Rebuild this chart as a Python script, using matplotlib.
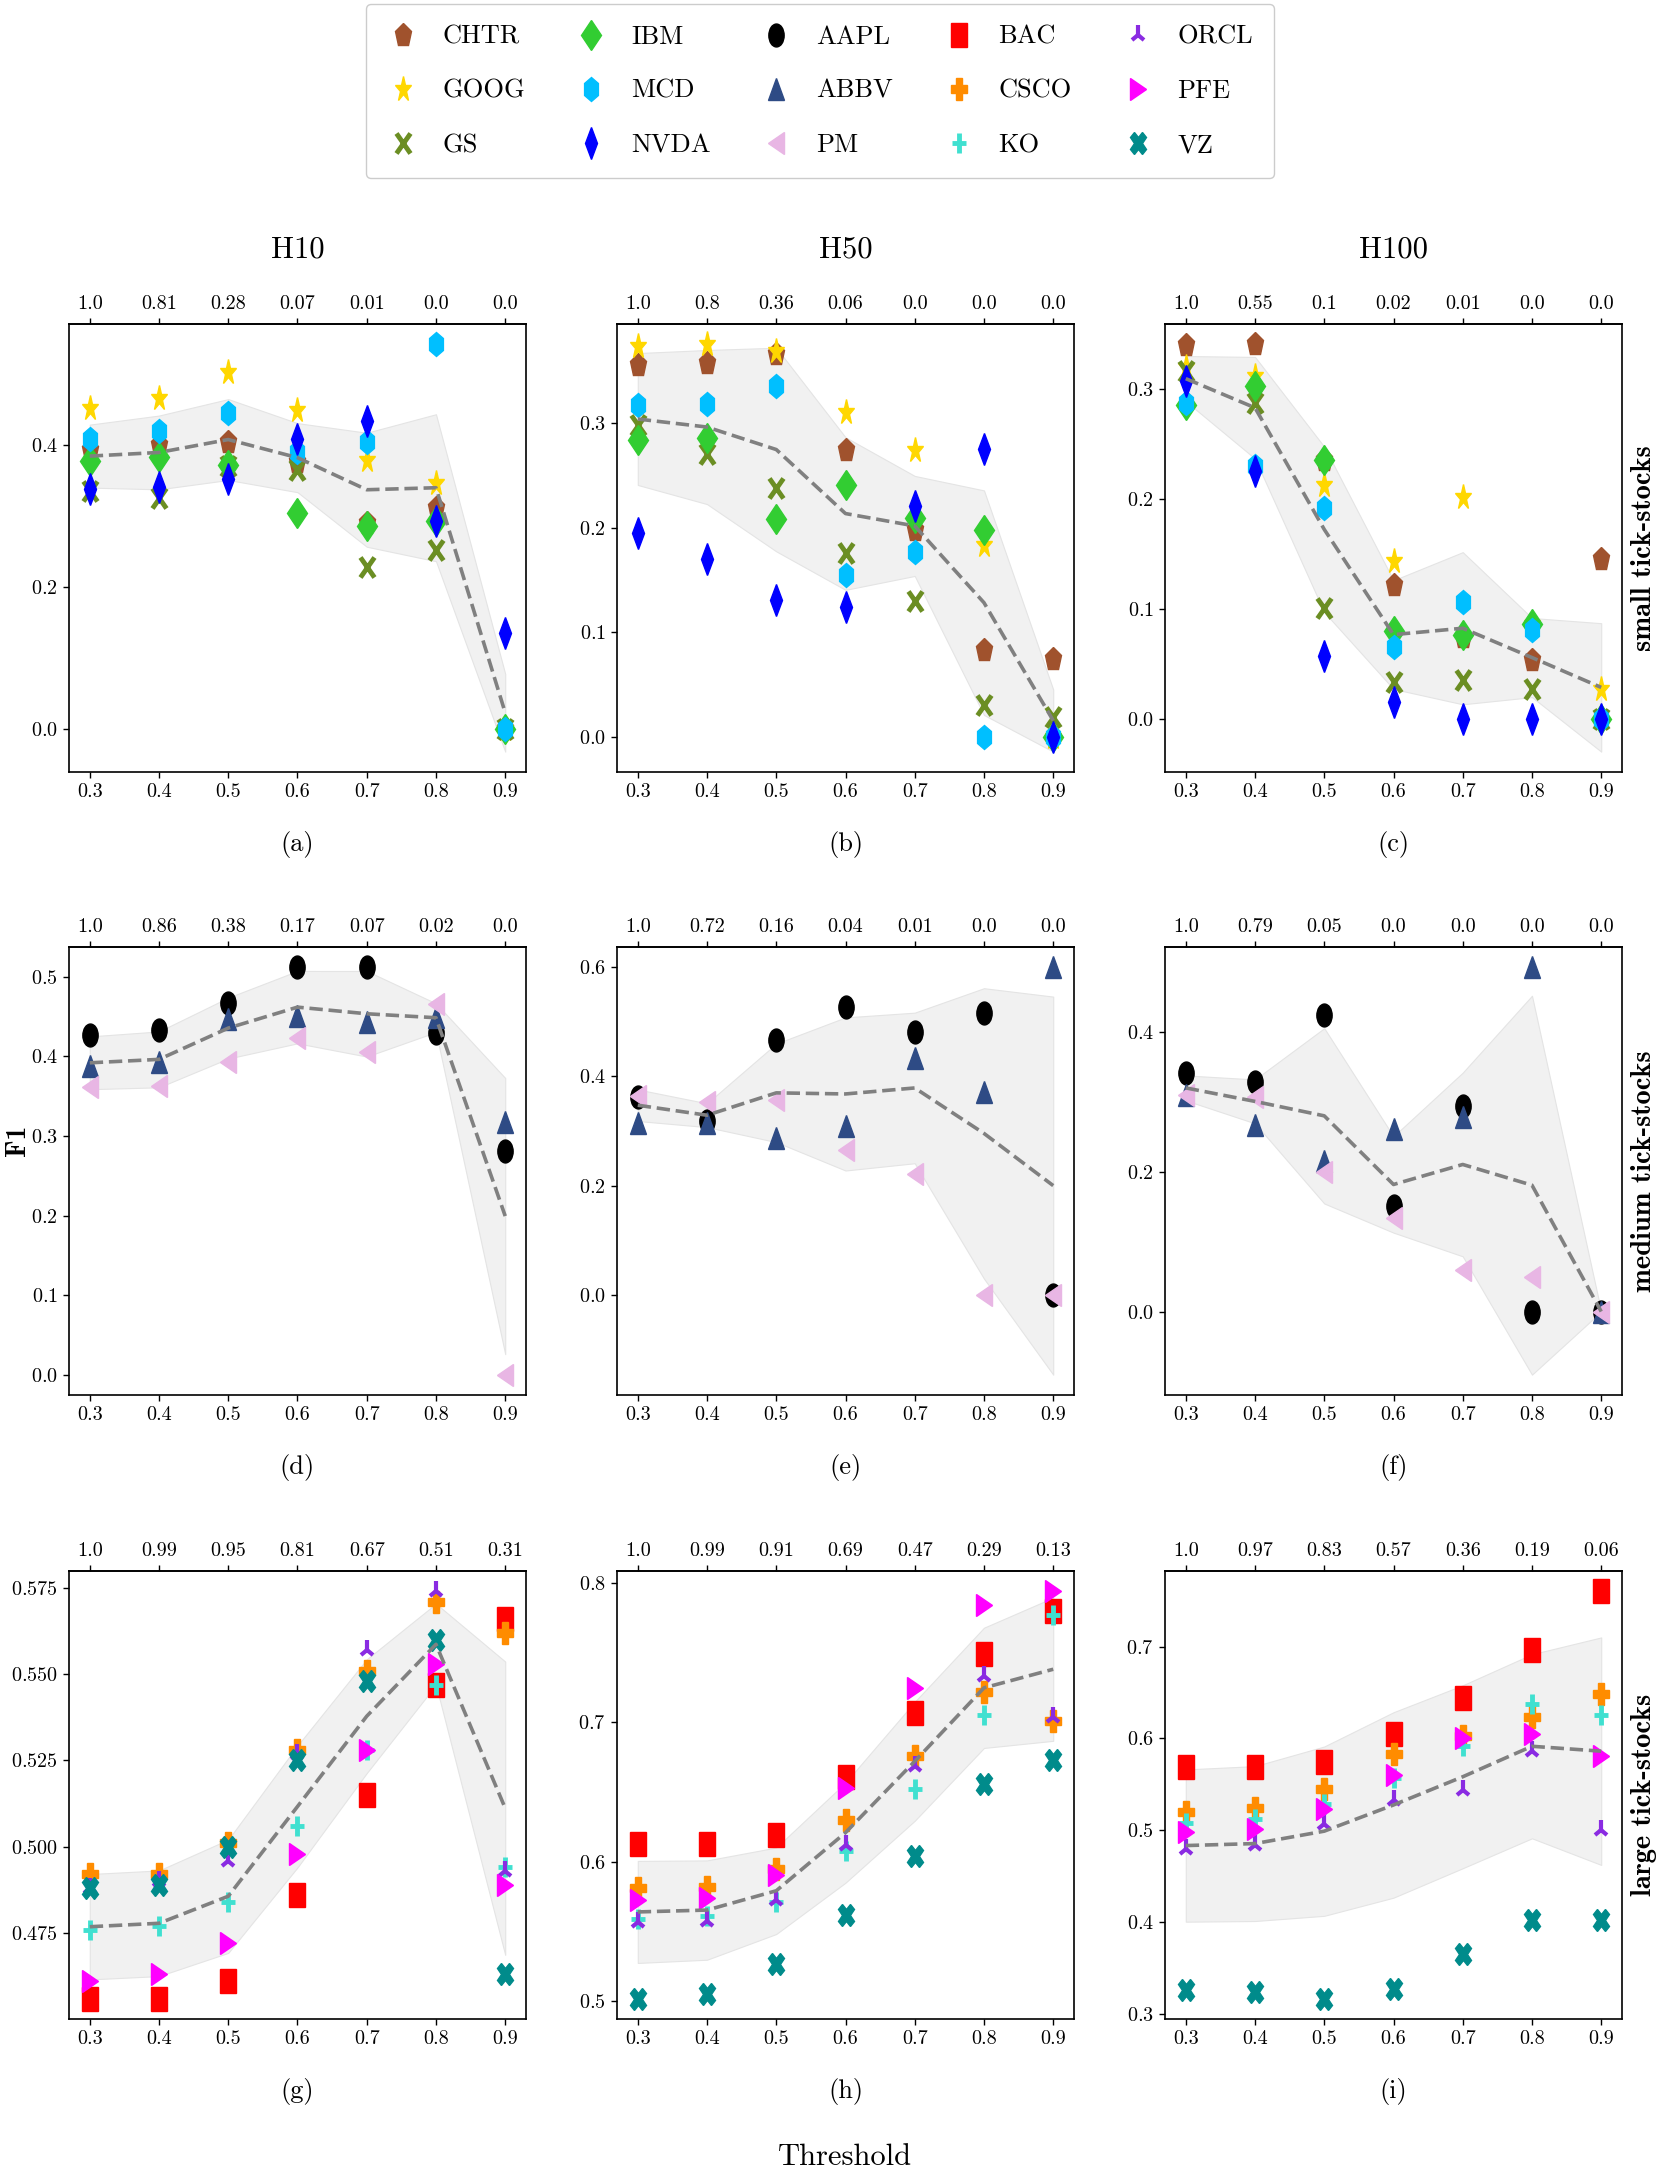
import numpy as np
import matplotlib
matplotlib.use("Agg")
import matplotlib.pyplot as plt
from matplotlib.markers import MarkerStyle
from matplotlib.transforms import Affine2D
from matplotlib.lines import Line2D
from matplotlib.ticker import MultipleLocator

plt.rcParams['font.family'] = ['cmr10', 'DejaVu Serif']
plt.rcParams['mathtext.fontset'] = 'cm'
plt.rcParams['axes.formatter.use_mathtext'] = True

# ---------------- data ----------------
thresholds = [0.3, 0.4, 0.5, 0.6, 0.7, 0.8, 0.9]
horizons = ['H10', 'H50', 'H100']
groups = ['small tick-stocks', 'medium tick-stocks', 'large tick-stocks']
subcaptions = ['(a)', '(b)', '(c)', '(d)', '(e)', '(f)', '(g)', '(h)', '(i)']

small_stocks = ['CHTR', 'GOOG', 'GS', 'IBM', 'MCD', 'NVDA']
medium_stocks = ['AAPL', 'ABBV', 'PM']
large_stocks = ['BAC', 'CSCO', 'KO', 'ORCL', 'PFE', 'VZ']

# small tick-stocks
f1_small_h10 = {
    'CHTR': [0.392, 0.400, 0.404, 0.376, 0.290, 0.310, 0.0],
    'GOOG': [0.452, 0.466, 0.502, 0.449, 0.378, 0.346, 0.0],
    'GS':   [0.335, 0.325, 0.370, 0.364, 0.228, 0.252, 0.0],
    'IBM':  [0.377, 0.383, 0.371, 0.303, 0.285, 0.293, 0.0],
    'MCD':  [0.408, 0.419, 0.444, 0.389, 0.404, 0.541, 0.0],
    'NVDA': [0.338, 0.340, 0.351, 0.408, 0.433, 0.293, 0.134],
}
f1_small_h50 = {
    'CHTR': [0.355, 0.357, 0.366, 0.274, 0.198, 0.083, 0.074],
    'GOOG': [0.373, 0.375, 0.369, 0.310, 0.274, 0.183, 0.0],
    'GS':   [0.298, 0.270, 0.238, 0.176, 0.130, 0.030, 0.019],
    'IBM':  [0.284, 0.286, 0.208, 0.241, 0.209, 0.198, 0.0],
    'MCD':  [0.317, 0.318, 0.335, 0.155, 0.177, 0.0, 0.0],
    'NVDA': [0.195, 0.170, 0.131, 0.124, 0.221, 0.275, 0.0],
}
f1_small_h100 = {
    'CHTR': [0.340, 0.341, 0.236, 0.122, 0.075, 0.054, 0.146],
    'GOOG': [0.320, 0.312, 0.213, 0.144, 0.202, 0.087, 0.028],
    'GS':   [0.317, 0.288, 0.101, 0.034, 0.036, 0.028, 0.0],
    'IBM':  [0.286, 0.303, 0.236, 0.080, 0.077, 0.087, 0.0],
    'MCD':  [0.288, 0.230, 0.192, 0.066, 0.107, 0.081, 0.0],
    'NVDA': [0.308, 0.226, 0.058, 0.016, 0.0, 0.0, 0.0],
}
# medium tick-stocks
f1_medium_h10 = {
    'AAPL': [0.427, 0.433, 0.467, 0.512, 0.512, 0.430, 0.281],
    'ABBV': [0.388, 0.393, 0.447, 0.451, 0.443, 0.450, 0.317],
    'PM':   [0.361, 0.363, 0.393, 0.423, 0.406, 0.466, 0.0],
}
f1_medium_h50 = {
    'AAPL': [0.363, 0.319, 0.466, 0.528, 0.481, 0.516, 0.0],
    'ABBV': [0.314, 0.314, 0.287, 0.310, 0.434, 0.371, 0.600],
    'PM':   [0.365, 0.354, 0.357, 0.266, 0.222, 0.0, 0.0],
}
f1_medium_h100 = {
    'AAPL': [0.341, 0.329, 0.425, 0.151, 0.294, 0.0, 0.0],
    'ABBV': [0.310, 0.267, 0.216, 0.261, 0.279, 0.493, 0.0],
    'PM':   [0.310, 0.307, 0.200, 0.134, 0.059, 0.050, 0.0],
}
# large tick-stocks
f1_large_h10 = {
    'BAC':  [0.456, 0.456, 0.461, 0.486, 0.515, 0.547, 0.566],
    'CSCO': [0.492, 0.492, 0.501, 0.528, 0.551, 0.571, 0.562],
    'KO':   [0.476, 0.477, 0.484, 0.506, 0.528, 0.547, 0.494],
    'ORCL': [0.488, 0.490, 0.496, 0.527, 0.557, 0.574, 0.493],
    'PFE':  [0.461, 0.463, 0.472, 0.498, 0.528, 0.553, 0.489],
    'VZ':   [0.488, 0.489, 0.500, 0.525, 0.548, 0.560, 0.463],
}
f1_large_h50 = {
    'BAC':  [0.613, 0.613, 0.619, 0.661, 0.707, 0.749, 0.780],
    'CSCO': [0.581, 0.582, 0.595, 0.630, 0.676, 0.722, 0.701],
    'KO':   [0.559, 0.561, 0.571, 0.608, 0.652, 0.705, 0.777],
    'ORCL': [0.557, 0.558, 0.573, 0.612, 0.669, 0.733, 0.704],
    'PFE':  [0.573, 0.574, 0.591, 0.653, 0.725, 0.784, 0.794],
    'VZ':   [0.502, 0.505, 0.527, 0.562, 0.604, 0.656, 0.673],
}
f1_large_h100 = {
    'BAC':  [0.569, 0.569, 0.574, 0.605, 0.644, 0.696, 0.760],
    'CSCO': [0.520, 0.524, 0.545, 0.583, 0.603, 0.623, 0.648],
    'KO':   [0.508, 0.512, 0.529, 0.557, 0.592, 0.637, 0.625],
    'ORCL': [0.480, 0.484, 0.507, 0.533, 0.544, 0.586, 0.500],
    'PFE':  [0.498, 0.501, 0.523, 0.560, 0.601, 0.605, 0.581],
    'VZ':   [0.326, 0.324, 0.317, 0.328, 0.366, 0.402, 0.403],
}

# top-axis labels
top_a = ['1.0', '0.81', '0.28', '0.07', '0.01', '0.0', '0.0']
top_b = ['1.0', '0.8', '0.36', '0.06', '0.0', '0.0', '0.0']
top_c = ['1.0', '0.55', '0.1', '0.02', '0.01', '0.0', '0.0']
top_d = ['1.0', '0.86', '0.38', '0.17', '0.07', '0.02', '0.0']
top_e = ['1.0', '0.72', '0.16', '0.04', '0.01', '0.0', '0.0']
top_f = ['1.0', '0.79', '0.05', '0.0', '0.0', '0.0', '0.0']
top_g = ['1.0', '0.99', '0.95', '0.81', '0.67', '0.51', '0.31']
top_h = ['1.0', '0.99', '0.91', '0.69', '0.47', '0.29', '0.13']
top_i = ['1.0', '0.97', '0.83', '0.57', '0.36', '0.19', '0.06']

# ---------------- styles ----------------
legend_order = ['CHTR', 'GOOG', 'GS', 'IBM', 'MCD', 'NVDA', 'AAPL', 'ABBV', 'PM',
                'BAC', 'CSCO', 'KO', 'ORCL', 'PFE', 'VZ']
markers = {'CHTR': 'p', 'GOOG': '*', 'GS': 'x', 'IBM': 'D', 'MCD': 'h', 'NVDA': 'd',
           'AAPL': 'o', 'ABBV': '^', 'PM': '<', 'BAC': 's', 'CSCO': 'P', 'KO': '+',
           'ORCL': '2', 'PFE': '>', 'VZ': 'X'}
colors = {'CHTR': '#A0522D', 'GOOG': '#FFD700', 'GS': '#6B8E23', 'IBM': '#32CD32',
          'MCD': '#00BFFF', 'NVDA': '#0000FF', 'AAPL': '#000000', 'ABBV': '#2E4B85',
          'PM': '#E8B6E4', 'BAC': '#FF0000', 'CSCO': '#FF8C00', 'KO': '#40E0D0',
          'ORCL': '#8A2BE2', 'PFE': '#FF00FF', 'VZ': '#008B8B'}
msizes = {'CHTR': 12, 'GOOG': 12.5, 'GS': 9.5, 'IBM': 10.5, 'MCD': 11.5, 'NVDA': 11,
          'AAPL': 11, 'ABBV': 11, 'PM': 11, 'BAC': 11.5, 'CSCO': 11, 'KO': 9.5,
          'ORCL': 10, 'PFE': 11, 'VZ': 11}
mews = {'GS': 3.5, 'KO': 3.5, 'ORCL': 3.0}
STRETCH = 1.5


def mstyle(m):
    return MarkerStyle(m, transform=Affine2D().scale(1.0, STRETCH))


panels = [
    (f1_small_h10, small_stocks, top_a, 0.2),
    (f1_small_h50, small_stocks, top_b, 0.1),
    (f1_small_h100, small_stocks, top_c, 0.1),
    (f1_medium_h10, medium_stocks, top_d, 0.1),
    (f1_medium_h50, medium_stocks, top_e, 0.2),
    (f1_medium_h100, medium_stocks, top_f, 0.2),
    (f1_large_h10, large_stocks, top_g, 0.025),
    (f1_large_h50, large_stocks, top_h, 0.1),
    (f1_large_h100, large_stocks, top_i, 0.1),
]

W, H = 1661, 2179
fig = plt.figure(figsize=(W / 100, H / 100), dpi=100)

col_left = [69, 617, 1165]
ax_w = 457
row_top = [324, 947, 1571]
ax_h = 448
TICK_FS = 14.5

for idx, (data, stocks, toplab, step) in enumerate(panels):
    r, c = divmod(idx, 3)
    ax = fig.add_axes([col_left[c] / W, 1 - (row_top[r] + ax_h) / H, ax_w / W, ax_h / H])
    vals = np.array([data[s] for s in stocks])
    mean = vals.mean(axis=0)
    sd = vals.std(axis=0, ddof=1)
    ax.fill_between(thresholds, mean - sd, mean + sd, facecolor='#f1f1f1',
                    edgecolor='#e4e4e4', linewidth=0.8, zorder=1)
    for s in stocks:
        ax.plot(thresholds, data[s], linestyle='none', marker=mstyle(markers[s]),
                markersize=msizes[s], color=colors[s], markeredgewidth=mews.get(s, 1.0),
                zorder=3)
    ax.plot(thresholds, mean, linestyle='--', color='#808080', linewidth=2.6, zorder=4)

    ax.set_xticks(thresholds)
    ax.set_xticklabels([f'{t:.1f}' for t in thresholds])
    ax.yaxis.set_major_locator(MultipleLocator(step))
    ax.tick_params(labelsize=TICK_FS, length=4, width=1, pad=4)
    for sp in ax.spines.values():
        sp.set_linewidth(1.2)

    sec = ax.secondary_xaxis('top')
    sec.set_xticks(thresholds)
    sec.set_xticklabels(toplab)
    sec.tick_params(labelsize=TICK_FS, length=4, width=1, pad=4)
    sec.spines['top'].set_linewidth(1.2)

    ax.text(0.5, -0.161, subcaptions[idx], transform=ax.transAxes, ha='center',
            va='center', fontsize=19)
    if r == 0:
        ax.text(0.5, 1.165, horizons[c], transform=ax.transAxes, ha='center',
                va='center', fontsize=22)
    if c == 2:
        ax.text((1644 - col_left[2]) / ax_w, 0.5, groups[r], transform=ax.transAxes,
                ha='center', va='center', rotation=90, fontsize=20.5, family='cmb10')

fig.text(18 / W, 1 - 1140 / H, 'F1', rotation=90, ha='center', va='center',
         fontsize=20, family='cmb10')
fig.text(845 / W, 1 - 2157 / H, 'Threshold', ha='center', va='center', fontsize=22)

handles = [Line2D([], [], linestyle='none', marker=mstyle(markers[s]),
                  markersize=msizes[s], color=colors[s],
                  markeredgewidth=mews.get(s, 1.0), label=s) for s in legend_order]
leg = fig.legend(handles=handles, loc='upper center', bbox_to_anchor=(820 / W, 1 - 4 / H),
                 ncol=5, fontsize=19, frameon=True, fancybox=True, edgecolor='#cccccc',
                 framealpha=1.0, handlelength=1.2, handletextpad=0.9, columnspacing=1.9,
                 labelspacing=1.15, borderpad=0.8, borderaxespad=0.0)

fig.savefig('out.png', dpi=100)
